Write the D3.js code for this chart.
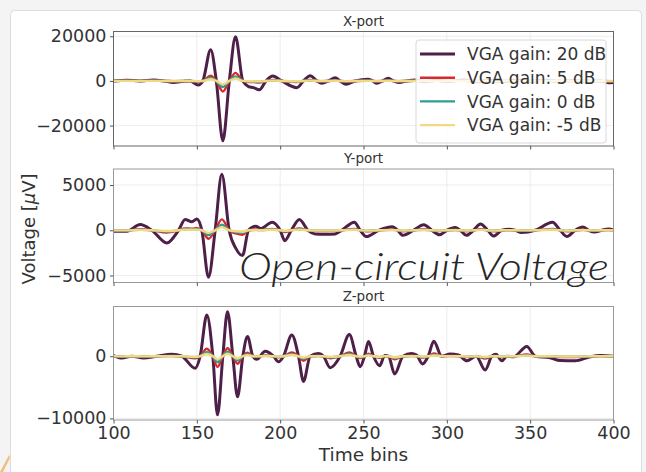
<!DOCTYPE html>
<html>
<head>
<meta charset="utf-8">
<script src="https://cdn.jsdelivr.net/npm/d3@7"></script>
<style>
  html, body { margin: 0; padding: 0; background: #f4f4f4; }
  svg { display: block; }
</style>
</head>
<body>
<svg id="chart" width="646" height="472"></svg>
<script>
// ---- shared axis data ----
const timeRange = [100, 400];
const timeTicks = [100, 150, 200, 250, 300, 350, 400];
const gainLabels = ["VGA gain: 20 dB", "VGA gain: 5 dB", "VGA gain: 0 dB", "VGA gain: -5 dB"];
const portTitles = ["X-port", "Y-port", "Z-port"];

// ---- X-port ----
const xPortTimes = [100,108,116,124,130,136,142,146,150.8,153.6,158.3,161.7,165.6,169.5,173.2,177.6,181,184,187.5,191.5,195.5,201,210,214,218,222,225,229,233,236,239.5,245,252.7,255.5,258,261.5,264.8,268,271.5,276,281,287,294,301,310,318,326,334,342,350,360,368,376,384,392,397,400];
const xPortGain20 = [0,300,0,400,0,-700,-200,0,-1800,0,14000,0,-26800,0,19800,0,-2500,-3000,-4000,0,2200,0,-3000,0,2300,0,-1000,0,1400,0,-1500,0,800,0,-1000,0,1200,0,-700,0,400,-400,300,-300,400,-400,200,-300,300,-200,300,-300,200,-200,0,-800,-700];
const xPortGain5 = [0,50,0,70,0,-120,-40,0,-320,0,2300,0,-4800,0,3600,0,-450,-530,-700,0,390,0,-530,0,410,0,-180,0,250,0,-270,0,140,0,-180,0,210,0,-120,0,70,-70,50,-50,70,-70,40,-50,50,-40,50,-50,40,-40,0,-140,-120];
const xPortGain0 = [0,30,0,40,0,-70,-20,0,-180,0,1400,0,-2700,0,2000,0,-250,-300,-400,0,220,0,-300,0,230,0,-100,0,140,0,-150,0,80,0,-100,0,120,0,-70,0,40,-40,30,-30,40,-40,20,-30,30,-20,30,-30,20,-20,0,-80,-70];
const xPortGainM5 = [0,20,0,20,0,-40,-10,0,-100,0,780,0,-1500,0,1100,0,-140,-170,-220,0,120,0,-170,0,130,0,-60,0,80,0,-80,0,40,0,-60,0,70,0,-40,0,20,-20,20,-20,20,-20,10,-20,20,-10,20,-20,10,-10,0,-40,-40];
const xPortTicks = [-20000, 0, 20000];

// ---- Y-port ----
const yPortTimes = [100,108,116,123,132,139,143,147,150,153,157,161,165,169.4,173.4,177.4,181,185.3,188.3,195.2,200,202.8,206.7,211.5,216.7,221,227,233,237,244.5,248,251.7,259,267.4,270.5,273.6,280,286.2,291,295.6,300,305,308,311.8,316,320.2,324.5,328,333,337.4,341,344.8,353,363.4,368,372,377,381.6,385,388.7,393,397,400];
const yPortGain20 = [-100,-100,630,0,-1400,0,1200,950,1250,0,-5200,0,6200,0,-2000,-2800,0,450,200,900,0,-1150,0,1200,0,-400,-450,-400,0,900,0,-700,0,400,0,-550,0,600,0,-500,0,300,0,-550,0,700,0,-640,0,120,0,-250,0,900,0,-680,0,360,0,-200,0,150,50];
const yPortGain5 = [-20,-20,110,0,-250,0,210,170,220,0,-930,0,1200,0,-350,-500,0,80,40,160,0,-200,0,210,0,-70,-80,-70,0,160,0,-120,0,70,0,-100,0,110,0,-90,0,50,0,-100,0,120,0,-110,0,20,0,-40,0,160,0,-120,0,60,0,-40,0,30,10];
const yPortGain0 = [-10,-10,60,0,-140,0,120,100,120,0,-520,0,620,0,-200,-280,0,40,20,90,0,-110,0,120,0,-40,-40,-40,0,90,0,-70,0,40,0,-60,0,60,0,-50,0,30,0,-60,0,70,0,-60,0,10,0,-20,0,90,0,-70,0,40,0,-20,0,20,0];
const yPortGainM5 = [-10,-10,40,0,-80,0,70,50,70,0,-290,0,350,0,-110,-160,0,30,10,50,0,-60,0,70,0,-20,-30,-20,0,50,0,-40,0,20,0,-30,0,30,0,-30,0,20,0,-30,0,40,0,-40,0,10,0,-10,0,50,0,-40,0,20,0,-10,0,10,0];
const yPortTicks = [-5000, 0, 5000];

// ---- Z-port ----
const zPortTimes = [100,105,111,118,126,135,141,149,152,156,159.6,162.4,165.6,168.4,171.6,174.4,177.6,180.4,183.6,186,191,196,199,202,207,211,214,218,223,226,230,236,241.5,245.6,248,250.6,253,256,259.7,262.7,265,268.7,273.7,278.8,281.8,285.4,288.8,292.2,296.9,302,307,312,317.6,323,327,329.5,333,336,340,348,353,362,368,377,386,392,400];
const zPortGain20 = [100,-300,0,-300,0,300,0,-1950,0,6640,0,-9430,0,7170,0,-6530,0,3160,0,-500,790,0,-900,0,3430,0,-4060,0,420,0,-1850,0,3480,0,-1690,0,2370,0,-1530,100,0,-2850,0,420,200,-1260,0,2420,0,350,200,-740,0,-2200,0,300,-740,0,-100,1580,0,-260,-700,-740,-100,100,0];
const zPortGain5 = [20,-50,0,-50,0,50,0,-350,0,1200,0,-1700,0,1280,0,-1200,0,560,0,-90,140,0,-160,0,610,0,-720,0,70,0,-330,0,620,0,-300,0,420,0,-270,20,0,-510,0,70,40,-220,0,430,0,60,40,-130,0,-390,0,50,-130,0,-20,280,0,-50,-120,-130,-20,20,0];
const zPortGain0 = [10,-30,0,-30,0,30,0,-200,0,660,0,-940,0,720,0,-650,0,320,0,-50,80,0,-90,0,340,0,-410,0,40,0,-190,0,350,0,-170,0,240,0,-150,10,0,-290,0,40,20,-130,0,240,0,40,20,-70,0,-220,0,30,-70,0,-10,160,0,-30,-70,-70,-10,10,0];
const zPortGainM5 = [10,-20,0,-20,0,20,0,-110,0,370,0,-530,0,400,0,-370,0,180,0,-30,40,0,-50,0,190,0,-230,0,20,0,-100,0,190,0,-90,0,130,0,-90,10,0,-160,0,20,10,-70,0,140,0,20,10,-40,0,-120,0,20,-40,0,-10,90,0,-10,-40,-40,-10,10,0];
const zPortTicks = [-10000, 0];

// ---- styling ----
const FONT = "'DejaVu Sans', sans-serif";
const TEXT = "#333";
const lineColors = ["#4e2049", "#d9292d", "#2e9e94", "#f3d882"];
const lineWidths = [3, 2.4, 2.4, 2.4];

const svg = d3.select("#chart");

// slide frame
svg.append("rect")
  .attr("x", 10.5).attr("y", 10.5).attr("width", 631).attr("height", 480).attr("rx", 4)
  .attr("fill", "#ffffff").attr("stroke", "#dcdcdc");

// small orange corner accent
svg.append("path").attr("d", "M0,472 L9,455 L10,458 L3,472 Z").attr("fill", "#f2b05a").attr("opacity", 0.8);

const x = d3.scaleLinear().domain(timeRange).range([113.5, 613.5]);

const panels = [
  { title: portTitles[0], top: 31.5, bottom: 146, times: xPortTimes,
    series: [xPortGain20, xPortGain5, xPortGain0, xPortGainM5], ticks: xPortTicks },
  { title: portTitles[1], top: 169, bottom: 282.5, times: yPortTimes,
    series: [yPortGain20, yPortGain5, yPortGain0, yPortGainM5], ticks: yPortTicks },
  { title: portTitles[2], top: 306.5, bottom: 420, times: zPortTimes,
    series: [zPortGain20, zPortGain5, zPortGain0, zPortGainM5], ticks: zPortTicks }
];

panels.forEach((p, i) => {
  const all = p.series.flat();
  const [lo, hi] = d3.extent(all);
  const pad = (hi - lo) * 0.05;
  const y = d3.scaleLinear().domain([lo - pad, hi + pad]).range([p.bottom, p.top]);
  const g = svg.append("g");

  // plot background
  g.append("rect").attr("x", x.range()[0]).attr("y", p.top)
    .attr("width", x.range()[1] - x.range()[0]).attr("height", p.bottom - p.top)
    .attr("fill", "#fff");

  // grid
  g.append("g").selectAll("line").data(timeTicks).join("line")
    .attr("x1", d => x(d)).attr("x2", d => x(d))
    .attr("y1", p.top).attr("y2", p.bottom)
    .attr("stroke", "#e8e8e8").attr("stroke-width", 0.8);
  g.append("g").selectAll("line").data(p.ticks).join("line")
    .attr("x1", x.range()[0]).attr("x2", x.range()[1])
    .attr("y1", d => y(d)).attr("y2", d => y(d))
    .attr("stroke", "#e8e8e8").attr("stroke-width", 0.8);

  // traces
  const clipId = "clip" + i;
  svg.append("clipPath").attr("id", clipId).append("rect")
    .attr("x", x.range()[0]).attr("y", p.top)
    .attr("width", x.range()[1] - x.range()[0]).attr("height", p.bottom - p.top);
  const line = d3.line().x(d => x(d[0])).y(d => y(d[1])).curve(d3.curveMonotoneX);
  const lines = g.append("g").attr("clip-path", `url(#${clipId})`);
  p.series.forEach((vals, k) => {
    lines.append("path")
      .attr("d", line(d3.zip(p.times, vals)))
      .attr("fill", "none")
      .attr("stroke", lineColors[k])
      .attr("stroke-width", lineWidths[k])
      .attr("stroke-linejoin", "round");
  });

  // frame
  g.append("rect").attr("x", x.range()[0]).attr("y", p.top)
    .attr("width", x.range()[1] - x.range()[0]).attr("height", p.bottom - p.top)
    .attr("fill", "none").attr("stroke", i === 0 ? "#666" : "#9a9a9a").attr("stroke-width", 1);

  // y axis
  const ya = g.append("g").attr("transform", `translate(${x.range()[0]},0)`)
    .call(d3.axisLeft(y).tickValues(p.ticks).tickSize(3.5).tickPadding(3.5).tickFormat(d3.format("d")));
  ya.select(".domain").remove();
  ya.selectAll("line").attr("stroke", "#555");
  ya.selectAll("text").attr("font-family", FONT).attr("font-size", 17.5).attr("fill", TEXT);

  // x axis
  const last = i === panels.length - 1;
  const xa = g.append("g").attr("transform", `translate(0,${p.bottom})`)
    .call(d3.axisBottom(x).tickValues(timeTicks).tickSize(3.5).tickPadding(3)
      .tickFormat(last ? d3.format("d") : () => ""));
  xa.select(".domain").remove();
  xa.selectAll("line").attr("stroke", "#555");
  xa.selectAll("text").attr("font-family", FONT).attr("font-size", 17.5).attr("fill", TEXT);

  // title
  g.append("text").attr("x", (x.range()[0] + x.range()[1]) / 2).attr("y", p.top - 6)
    .attr("text-anchor", "middle").attr("font-family", FONT).attr("font-size", 13.5)
    .attr("fill", TEXT).text(p.title);
});

// legend in the first panel
const leg = svg.append("g").attr("transform", "translate(416,40)");
leg.append("rect").attr("width", 190).attr("height", 103).attr("rx", 3)
  .attr("fill", "#fff").attr("fill-opacity", 0.8).attr("stroke", "#d8d8d8");
gainLabels.forEach((lab, k) => {
  const yy = 14 + k * 23.7;
  leg.append("line").attr("x1", 4).attr("x2", 39).attr("y1", yy).attr("y2", yy)
    .attr("stroke", lineColors[k]).attr("stroke-width", lineWidths[k]);
  leg.append("text").attr("x", 51).attr("y", yy).attr("dy", "0.36em")
    .attr("font-family", FONT).attr("font-size", 17).attr("fill", TEXT).text(lab);
});

// axis labels
svg.append("text").attr("x", 363.5).attr("y", 461).attr("text-anchor", "middle")
  .attr("font-family", FONT).attr("font-size", 18.5).attr("fill", TEXT).text("Time bins");
const yl = svg.append("text").attr("transform", "translate(35,229) rotate(-90)")
  .attr("text-anchor", "middle").attr("font-family", FONT).attr("font-size", 18).attr("fill", TEXT);
yl.append("tspan").text("Voltage [");
yl.append("tspan").attr("font-style", "italic").text("μ");
yl.append("tspan").text("V]");

// overlay caption
svg.append("text").attr("x", 239).attr("y", 280)
  .attr("font-family", "Lato, 'Open Sans', sans-serif").attr("font-style", "italic").attr("font-weight", 300)
  .attr("font-size", 37).attr("fill", "#262626")
  .attr("textLength", 370).attr("lengthAdjust", "spacingAndGlyphs")
  .text("Open-circuit Voltage");
</script>
</body>
</html>
